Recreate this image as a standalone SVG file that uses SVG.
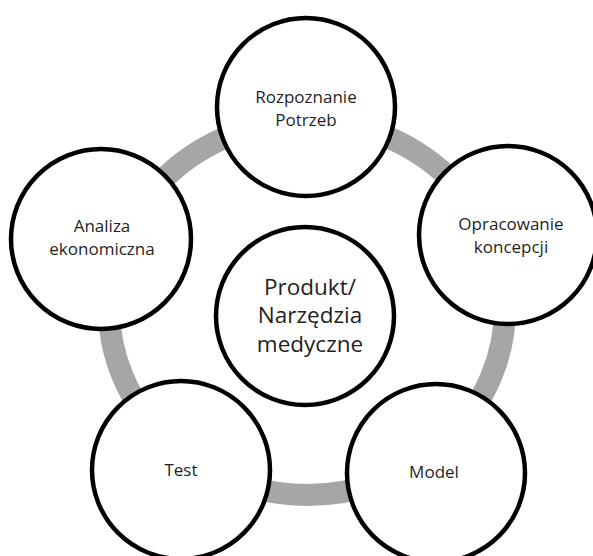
<svg xmlns="http://www.w3.org/2000/svg" width="593" height="556" viewBox="0 0 593 556">
<style>
.node{fill:#fff;stroke:#000;stroke-width:4.5}
.lbl{font-family:"Open Sans","Noto Sans",sans-serif;font-size:17px;fill:#1f1f1f;text-anchor:middle}
.big{font-size:22.5px}
.ring{fill:none;stroke:#a6a6a6;stroke-width:22}
</style>
<rect width="593" height="556" fill="#fff"/>
<g id="connectors">
<ellipse class="ring" cx="307" cy="308" rx="198" ry="187"/>
</g>
<g id="node-rozpoznanie">
<circle class="node" cx="306" cy="107" r="89"/>
<text class="lbl" x="306" y="103">Rozpoznanie</text>
<text class="lbl" x="306" y="126">Potrzeb</text>
</g>
<g id="node-opracowanie">
<circle class="node" cx="508" cy="235" r="89"/>
<text class="lbl" x="511" y="230">Opracowanie</text>
<text class="lbl" x="511" y="253">koncepcji</text>
</g>
<g id="node-analiza">
<circle class="node" cx="101" cy="239" r="90"/>
<text class="lbl" x="102" y="232">Analiza</text>
<text class="lbl" x="102" y="255">ekonomiczna</text>
</g>
<g id="node-test">
<circle class="node" cx="181" cy="470" r="89"/>
<text class="lbl" x="181" y="476">Test</text>
</g>
<g id="node-model">
<circle class="node" cx="436" cy="473" r="89"/>
<text class="lbl" x="434" y="478">Model</text>
</g>
<g id="node-produkt">
<circle class="node" cx="305" cy="316" r="89"/>
<text class="lbl big" x="310" y="295">Produkt/</text>
<text class="lbl big" x="310" y="323">Narzędzia</text>
<text class="lbl big" x="310" y="352">medyczne</text>
</g>
</svg>
